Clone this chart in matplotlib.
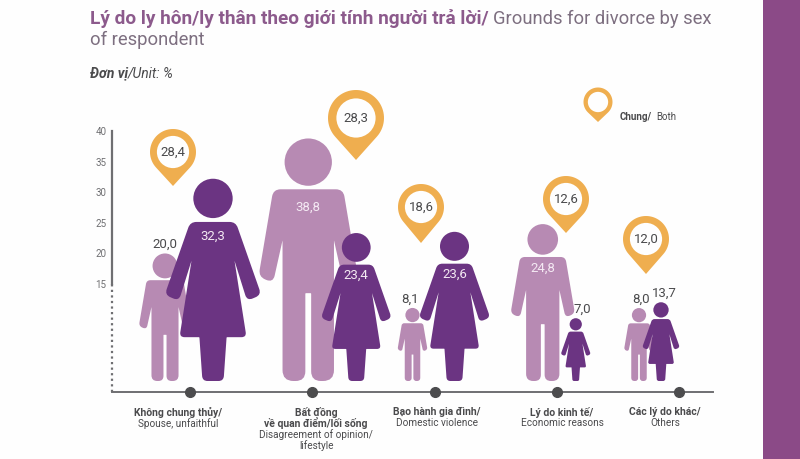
import numpy as np
import matplotlib
matplotlib.use('Agg')
import matplotlib.pyplot as plt
from matplotlib.patches import Circle, PathPatch, Rectangle
from matplotlib.path import Path
from matplotlib.transforms import Affine2D

plt.rcParams['font.family'] = ['Roboto', 'DejaVu Sans']

# Data
cat_bold = [['Không chung thủy/'], ['Bất đồng', 'về quan điểm/lối sống'], ['Bạo hành gia đình/'],
            ['Lý do kinh tế/'], ['Các lý do khác/']]
cat_reg = [['Spouse, unfaithful'], ['Disagreement of opinion/', 'lifestyle'], ['Domestic violence'],
           ['Economic reasons'], ['Others']]
male = [20.0, 38.8, 8.1, 24.8, 8.0]
female = [32.3, 23.4, 23.6, 7.0, 13.7]
both = [28.4, 28.3, 18.6, 12.6, 12.0]
yticks = [15, 20, 25, 30, 35, 40]

# layout, all in pixels of the 800x459 picture
male_dx = [-25, -4, -22, -14, -40]
female_dx = [23, 44, 20, 19, -18]
male_label_dx = [0, 0, -2, 0, 2]
female_label_dx = [0, 0, 0, 7, 3]
pin_xy = [(173, 152), (356, 118), (421, 207), (566, 199), (646, 239)]
pin_r = [23, 28, 23, 23, 23]
pin_tip = [186, 160, 243, 233, 274]
label_x = [178, 316, 437, 562, 665]

LIGHT = '#b78ab3'
DARK = '#6b3482'
PIN = '#efae4f'
GREY = '#6f6f72'
TEXT = '#4a4a4c'

# the axis is broken under 15, so the pictograms do not follow it linearly there
knots_v = [-1.8, 0, 7, 8, 13.7, 15, 40]
knots_h = [-11, 0, 63, 73, 79, 97, 250]
fwd = lambda v: np.interp(v, knots_v, knots_h)
inv = lambda h: np.interp(h, knots_h, knots_v)

fig = plt.figure(figsize=(8, 4.59), dpi=100, facecolor='#fefefe')
ax = fig.add_axes([112 / 800, (459 - 392) / 459, (713 - 112) / 800, (392 - 131) / 459])
ax.patch.set_alpha(0)
ax.set_yscale('function', functions=(fwd, inv))
ax.set_ylim(-1.8, 40)
ax.set_xlim((112 - 190) / 122.25, (713 - 190) / 122.25)
cats = np.arange(5)

for s in ['top', 'right']:
    ax.spines[s].set_visible(False)
ax.spines['left'].set_bounds(15, 40)
ax.spines['left'].set_color(GREY)
ax.spines['left'].set_linewidth(1.6)
ax.spines['bottom'].set_color(GREY)
ax.spines['bottom'].set_linewidth(1.4)
ax.plot([ax.get_xlim()[0]] * 2, [-1.8, 15], color=GREY, lw=1.6, ls=(0, (1, 1.5)), clip_on=False)
ax.set_yticks(yticks)
ax.set_yticks([], minor=True)
ax.set_yticklabels(yticks, fontsize=7, color=GREY)
ax.tick_params(axis='y', length=0, pad=4)
ax.set_xticks([])
ax.plot(cats, [-1.8] * 5, 'o', color='#4c4c4e', ms=7, clip_on=False, zorder=6)

# picture pixels (origin top left) -> display
to_px = Affine2D().scale(1, -1).translate(0, 459)


def rounded(points):
    # closed path through (x, y, r) corners, r is the rounding of that corner
    verts, codes = [], []
    n = len(points)
    for i in range(n):
        p = np.array(points[i][:2], float)
        r = points[i][2]
        a = np.array(points[i - 1][:2], float)
        b = np.array(points[(i + 1) % n][:2], float)
        p1 = p + (a - p) / np.linalg.norm(a - p) * r
        p2 = p + (b - p) / np.linalg.norm(b - p) * r
        verts += [p1, p, p2]
        codes += [Path.LINETO, Path.CURVE3, Path.CURVE3]
    codes[0] = Path.MOVETO
    verts.append(verts[0])
    codes.append(Path.CLOSEPOLY)
    return Path(verts, codes)


def mirror(half):
    return half + [(-x, y, r) for x, y, r in reversed(half)]


MAN = mirror([(0.144, 0.79, 0.03), (0.205, 0.43, 0.03), (0.145, 0.405, 0.03), (0.106, 0.58, 0.003),
              (0.106, 0, 0.045), (0.012, 0, 0.04), (0.012, 0.362, 0.003)])
WOMAN = mirror([(0.112, 0.784, 0.03), (0.238, 0.425, 0.03), (0.168, 0.395, 0.03), (0.106, 0.593, 0.003),
                (0.165, 0.216, 0.025), (0.067, 0.216, 0.003), (0.052, 0, 0.025)])


def person(cat, dx, value, shape, head_y, head_r, color, z, label_dx):
    # height comes from the value through the y scale of the axes
    x0, y0 = ax.transData.transform((cat, 0))
    _, y1 = ax.transData.transform((cat, value))
    h = y1 - y0
    tr = Affine2D().scale(h).translate(x0 + dx, y0)
    ax.add_artist(PathPatch(rounded(shape), fc=color, ec='none', transform=tr, zorder=z, clip_on=False))
    ax.add_artist(Circle((0, head_y), head_r, fc=color, ec='none', transform=tr, zorder=z, clip_on=False))
    txt = f'{value:.1f}'.replace('.', ',')
    if value > 20:
        ax.text(x0 + dx + label_dx, y0 + h * 0.715, txt, color='#f4e9f3', fontsize=9.5, ha='center', va='center',
                transform=Affine2D(), zorder=7)
    else:
        ax.text(x0 + dx + label_dx, y1 + 9, txt, color=TEXT, fontsize=9.5, ha='center', va='center',
                transform=Affine2D(), zorder=7)


for i in cats:
    person(i, male_dx[i], male[i], MAN, 0.902, 0.0975, LIGHT, 3, male_label_dx[i])
for i in cats:
    person(i, female_dx[i], female[i], WOMAN, 0.90, 0.097, DARK, 4, female_label_dx[i])


def pin(x, y, r, tip, ring=0.3):
    # outer teardrop then white hole
    t = np.arcsin(r / (tip - y))
    ang = np.linspace(-t, np.pi + t, 60)
    pts = [(x + r * np.cos(q), y - r * np.sin(q)) for q in ang] + [(x, tip)]
    ax.add_artist(plt.Polygon(pts, closed=True, fc=PIN, ec='none', transform=to_px, zorder=5, clip_on=False))
    ax.add_artist(Circle((x, y), r * (1 - ring), fc='#fefefe', ec='none', transform=to_px, zorder=5, clip_on=False))


for i in cats:
    pin(pin_xy[i][0], pin_xy[i][1], pin_r[i], pin_tip[i])
    fig.text(pin_xy[i][0], pin_xy[i][1], f'{both[i]:.1f}'.replace('.', ','), fontsize=9.5, color=TEXT,
             ha='center', va='center', transform=to_px, zorder=8)
pin(598, 102, 14.5, 122)
fig.text(620, 117, 'Chung/', fontsize=7, fontweight='bold', color=TEXT, va='center', transform=to_px)
fig.text(656, 117, 'Both', fontsize=7, color=TEXT, va='center', transform=to_px)

# category labels
for i in cats:
    y = 412
    for line in cat_bold[i]:
        fig.text(label_x[i], y, line, fontsize=7.5, fontweight='bold', color=TEXT, ha='center', va='center', transform=to_px)
        y += 11.3
    for line in cat_reg[i]:
        fig.text(label_x[i], y, line, fontsize=7.2, color=TEXT, ha='center', va='center', transform=to_px)
        y += 11.3

# heading
fig.text(90, 19, 'Lý do ly hôn/ly thân theo giới tính người trả lời/', fontsize=13.7, fontweight='bold',
         color='#8c5a8c', va='center', transform=to_px)
fig.text(493, 19, 'Grounds for divorce by sex', fontsize=13.2, color='#7d6f80', va='center', transform=to_px)
fig.text(90, 40, 'of respondent', fontsize=13.2, color='#7d6f80', va='center', transform=to_px)
fig.text(90, 73, 'Đơn vị', fontsize=10, fontweight='bold', style='italic', color=TEXT, va='center', transform=to_px)
fig.text(128, 73, '/Unit: %', fontsize=10, style='italic', color=TEXT, va='center', transform=to_px)

fig.add_artist(Rectangle((763, 0), 37, 459, fc='#8b4a87', ec='none', transform=to_px))

fig.savefig('out.png', dpi=100, facecolor=fig.get_facecolor())
